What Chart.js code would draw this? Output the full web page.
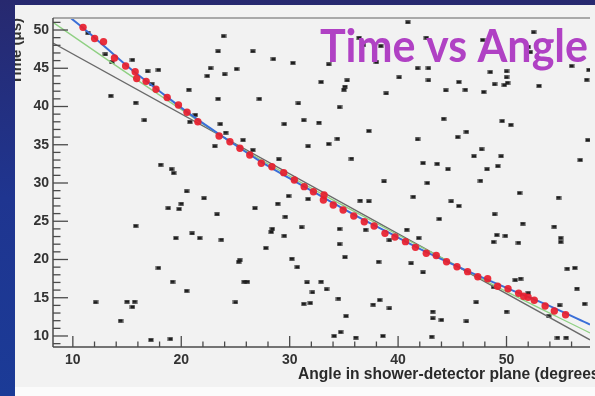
<!DOCTYPE html>
<html><head><meta charset="utf-8">
<script src="https://cdn.jsdelivr.net/npm/chart.js@4.4.1/dist/chart.umd.min.js"></script>
<style>html,body{margin:0;padding:0;background:#1c2f8a;overflow:hidden}#wrap{width:595px;height:396px;position:relative}canvas{display:block}</style>
</head><body><div id="wrap"><canvas id="c" width="595" height="396"></canvas></div>
<script>
// ---- data ----
const xTicks = [10, 20, 30, 40, 50];
const yTicks = [10, 15, 20, 25, 30, 35, 40, 45, 50];
const chartTitle = 'Time vs Angle';
const xTitle = 'Angle in shower-detector plane (degrees)';
const yTitle = 'Time (\u03bcs)';

// selected (signal) stations
const angleSignal = [10.94,12.01,12.83,13.84,14.87,15.75,15.89,16.76,17.67,18.70,19.74,20.53,21.53,23.49,24.49,25.41,26.32,27.38,28.36,29.45,30.43,31.34,32.19,33.11,33.17,34.02,34.93,35.91,36.88,37.79,38.79,39.71,40.68,41.60,42.60,43.52,44.47,45.43,46.41,47.35,48.26,49.18,50.14,51.12,51.58,51.99,52.56,53.56,54.41,55.45];
const timeSignal  = [50.35,48.89,48.46,46.34,45.29,44.55,43.66,43.29,42.25,41.18,40.20,39.25,38.01,36.14,35.40,34.54,33.66,32.58,32.13,31.35,30.39,29.52,28.86,27.78,28.43,27.12,26.47,25.69,24.94,24.38,23.42,22.94,22.33,21.59,20.81,20.52,19.71,19.06,18.41,17.75,17.49,16.50,16.18,15.58,15.19,15.06,14.67,13.92,13.27,12.78];

// background (noise) hits
const angleNoise = [11.4,13.0,13.6,13.5,15.5,15.8,16.9,17.9,16.6,17.3,20.7,20.8,21.3,
23.9,23.4,26.6,28.5,30.3,22.7,22.4,24.0,25.1,33.6,36.4,36.8,38.4,38.0,32.9,35.3,35.1,35.0,38.9,23.4,27.2,30.8,34.6,31.3,32.7,29.5,23.6,24.1,37.3,34.4,25.7,
40.9,52.5,42.6,47.8,52.0,52.2,41.8,42.8,40.1,42.8,48.5,50.0,50.0,50.1,49.8,48.9,45.6,44.4,46.2,47.9,53.0,56.0,57.4,57.6,44.2,49.6,50.4,46.3,45.5,41.8,
18.1,19.1,19.3,20.5,20.0,18.8,19.8,15.8,19.5,21.0,21.7,
26.6,23.1,31.7,33.6,35.7,29.0,38.7,22.1,29.9,31.7,36.5,37.3,28.9,26.8,23.3,29.6,31.1,34.6,28.4,28.3,29.5,23.7,37.0,39.2,34.6,27.8,35.1,30.2,25.4,25.3,38.2,
47.7,47.0,49.5,42.3,43.6,44.6,48.2,49.2,56.8,47.6,42.7,51.2,54.8,41.4,44.9,45.6,48.9,43.8,51.5,54.4,40.8,41.9,49.1,49.9,48.8,51.1,55.0,55.0,57.5,
17.9,19.2,20.5,12.1,15.0,15.7,15.5,14.4,17.2,19.0,
30.7,25.8,26.1,31.6,32.9,33.4,32.1,34.5,25.0,31.3,31.9,37.7,38.3,39.2,35.2,34.1,34.7,36.1,38.6,
41.2,42.3,50.8,51.3,52.0,47.2,43.2,43.2,44.0,46.3,50.0,43.1,54.9,56.5,57.2,55.6,56.3,54.7,55.5,53.9,48.8];
const timeNoise = [49.6,46.8,45.8,41.4,46.1,40.5,44.6,44.8,38.2,42.9,42.2,38.0,38.9,
49.2,47.2,47.2,46.2,45.7,45.0,44.0,44.2,44.9,45.5,49.0,48.0,47.9,45.8,43.2,43.4,42.6,42.2,41.7,41.0,41.0,40.4,39.9,38.2,37.9,37.7,37.7,36.6,36.8,35.8,35.6,
51.0,49.7,49.0,48.7,47.8,47.1,45.0,45.0,43.8,43.4,44.5,44.6,43.8,43.1,42.8,42.9,43.2,42.1,42.2,41.9,42.7,45.3,43.5,44.8,38.4,38.1,37.6,36.7,36.0,35.7,
32.4,31.8,31.3,28.9,27.3,26.7,26.6,24.4,22.8,23.4,22.8,
34.3,34.8,34.8,35.1,33.2,33.1,30.2,28.0,28.3,27.9,27.7,27.6,27.3,26.7,25.9,25.6,24.2,24.0,24.0,23.6,23.1,22.6,23.9,22.5,22.0,21.5,20.3,20.1,19.9,19.7,19.7,
34.4,33.5,33.5,32.6,32.5,31.8,31.8,32.2,33.0,30.3,30.0,28.7,28.1,28.2,27.6,27.0,25.9,25.3,24.7,24.3,23.9,22.8,23.2,23.1,22.3,22.2,22.8,22.3,35.6,
18.9,17.1,15.9,14.4,14.5,14.5,13.8,12.0,9.5,9.6,
19.0,17.1,17.1,17.0,17.1,16.1,15.7,14.9,14.4,14.2,14.3,14.1,14.7,13.6,12.6,10.0,10.5,9.8,10.0,
19.5,18.3,17.3,17.5,15.6,14.4,13.2,12.3,12.1,11.9,13.2,9.9,14.0,16.2,14.2,18.8,18.9,9.8,9.8,12.6,16.4];

// fit curves
const blueAngle = [9.7,12,15,18,21,24,27,30,33,36,39,42,45,48,51,54,57.7];
const blueTime  = [51.7,49.0,45.3,42.0,38.8,35.9,33.1,30.6,28.2,25.8,23.6,21.4,19.4,17.5,15.7,13.9,11.5];
const greenAngle = [8.17,13.6,20,25,30,35,40,45,50,57.7];
const greenTime  = [51.0,45.7,39.6,35.0,30.9,27.0,23.2,19.5,15.8,10.4];
const grayAngle = [8.17,57.7];
const grayTime  = [48.3,9.5];

const xRange = [8.17, 57.7];
const yRange = [8.56, 51.57];

// ---- helpers ----
const pts = (xs, ys) => xs.map((x, i) => ({x, y: ys[i]}));
const mk = document.createElement('canvas');
mk.width = 6; mk.height = 4;
{ const m = mk.getContext('2d');
  m.fillStyle = 'rgba(30,30,30,0.45)'; m.fillRect(0,0,6,4);
  m.fillStyle = '#1c1c1c'; m.fillRect(1,0.5,4,3); }

const framePlugin = {
  id: 'frame',
  beforeDraw(chart) {
    const c = chart.ctx; c.save();
    const g = c.createLinearGradient(0, 0, 0, 396);
    g.addColorStop(0, '#27296f'); g.addColorStop(0.5, '#1f3590'); g.addColorStop(1, '#1b3b97');
    c.fillStyle = g; c.fillRect(0, 0, 595, 396);
    c.fillStyle = '#f2f2f2'; c.fillRect(15, 5, 580, 391);
    c.fillStyle = '#fbfbfb'; c.fillRect(15, 387, 580, 9);
    c.beginPath(); c.rect(15, 5, 580, 391); c.clip();
    c.translate(21, 18); c.rotate(-Math.PI / 2);
    c.font = 'bold 15px "Liberation Sans", Arial, sans-serif';
    c.fillStyle = '#333'; c.textAlign = 'right'; c.textBaseline = 'alphabetic';
    c.fillText(yTitle, 0, 0);
    c.restore();
  },
  afterDraw(chart) {
    const c = chart.ctx; const {left, right, top, bottom} = chart.chartArea;
    const xs = chart.scales.x, ys = chart.scales.y;
    c.save();
    const line = (a, b, d, e) => { c.beginPath(); c.moveTo(a, b); c.lineTo(d, e); c.stroke(); };
    c.strokeStyle = '#a9a9a9'; c.lineWidth = 2; line(left, top, right, top);
    c.strokeStyle = '#4a4a4a'; c.lineWidth = 1.5;
    line(left, top, left, bottom); line(left, bottom, right, bottom);
    c.lineWidth = 1.3;
    for (let v = Math.ceil(yRange[0]); v <= yRange[1]; v++) {
      const p = ys.getPixelForValue(v);
      line(left, p, left + (v % 5 === 0 ? 15 : 7.5), p);
    }
    for (let v = 10; v <= xRange[1]; v += 2) {
      const p = xs.getPixelForValue(v);
      line(p, bottom, p, bottom - (v % 10 === 0 ? 11 : 5.5));
    }
    // axis title (runs off the right edge as in the original)
    c.font = 'bold 15.6px "Liberation Sans", Arial, sans-serif';
    c.fillStyle = '#2a2a2a'; c.textAlign = 'left'; c.textBaseline = 'alphabetic';
    c.fillText(xTitle, 298, 379);
    // big title
    c.font = 'bold 45px Lato, "Open Sans", sans-serif';
    const w = c.measureText(chartTitle).width;
    c.translate(320, 62); c.scale(268 / w, 1);
    c.fillStyle = '#b041c4';
    c.fillText(chartTitle, 0, 0);
    c.restore();
  }
};

const tickFont = {family: '"Liberation Sans", Arial, sans-serif', weight: 'bold', size: 14};
new Chart(document.getElementById('c'), {
  type: 'scatter',
  data: { datasets: [
    {label: 'signal', data: pts(angleSignal, timeSignal), pointRadius: 3.7, pointBackgroundColor: 'rgba(232,30,45,0.92)', pointBorderWidth: 0, order: 1},
    {label: 'fit1', data: pts(blueAngle, blueTime), showLine: true, borderColor: '#3a6fd8', borderWidth: 2, pointRadius: 0, cubicInterpolationMode: 'monotone', order: 2},
    {label: 'fit2', data: pts(greenAngle, greenTime), showLine: true, borderColor: '#8fd083', borderWidth: 1.3, pointRadius: 0, cubicInterpolationMode: 'monotone', order: 3},
    {label: 'fit3', data: pts(grayAngle, grayTime), showLine: true, borderColor: '#6a6a6a', borderWidth: 1.4, pointRadius: 0, order: 4},
    {label: 'noise', data: pts(angleNoise, timeNoise), pointStyle: mk, pointRadius: 3, order: 5}
  ]},
  options: {
    responsive: false, animation: false, devicePixelRatio: 1,
    layout: {padding: {left: 0, top: 18, right: 0, bottom: 0}},
    plugins: {legend: {display: false}, tooltip: {enabled: false}, title: {display: false}},
    scales: {
      x: {type: 'linear', min: xRange[0], max: xRange[1],
        afterFit(s) { s.height = 49; },
        afterBuildTicks(s) { s.ticks = xTicks.map(v => ({value: v})); },
        grid: {display: false, drawTicks: false}, border: {display: false},
        ticks: {font: tickFont, color: '#333', padding: 5, maxRotation: 0, autoSkip: false}},
      y: {type: 'linear', min: yRange[0], max: yRange[1],
        afterFit(s) { s.width = 53; },
        afterBuildTicks(s) { s.ticks = yTicks.map(v => ({value: v})); },
        grid: {display: false, drawTicks: false}, border: {display: false},
        ticks: {font: tickFont, color: '#333', padding: 4, autoSkip: false}}
    }
  },
  plugins: [framePlugin]
});
</script>
</body></html>
